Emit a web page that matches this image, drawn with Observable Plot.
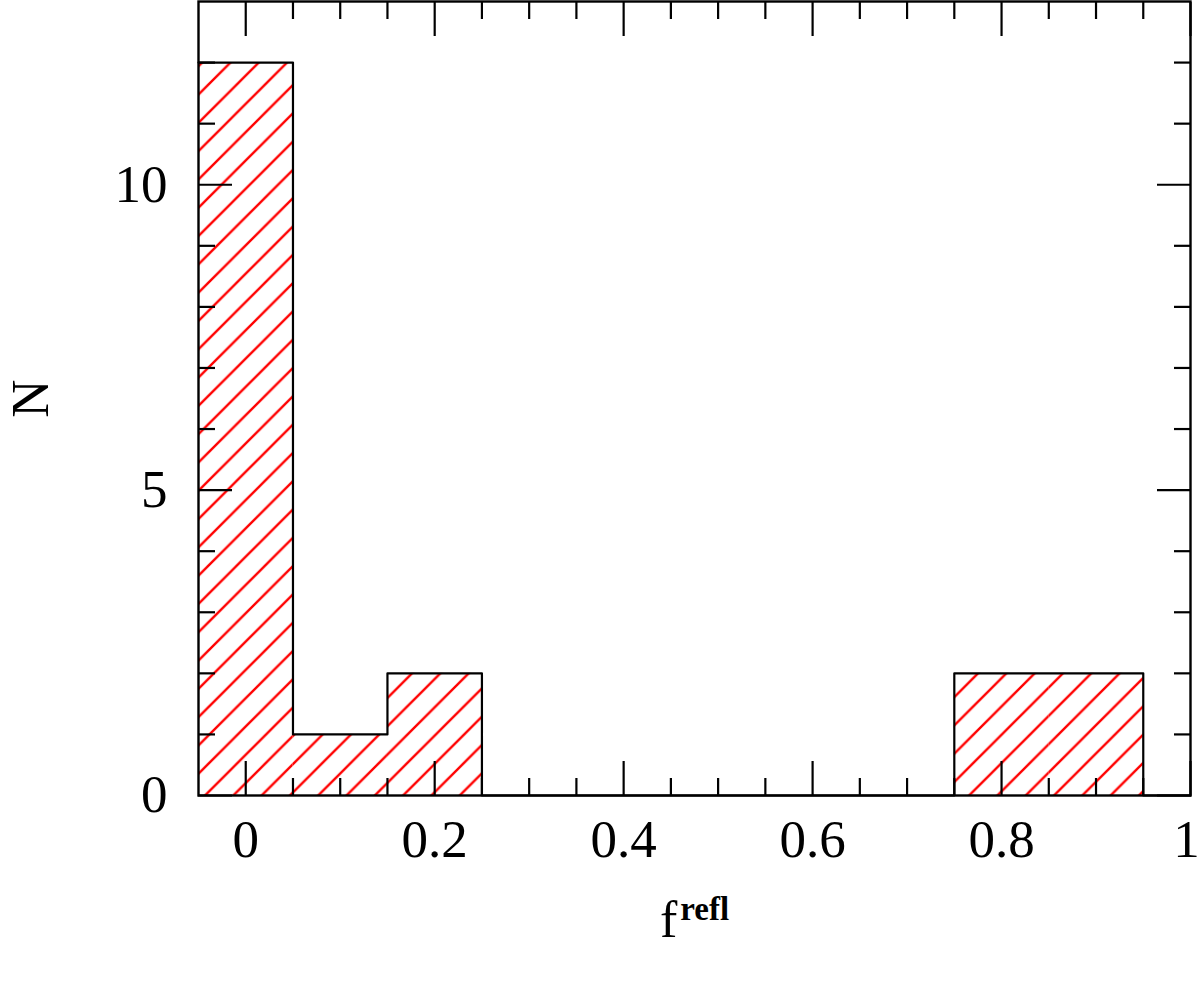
<!DOCTYPE html>
<html><head><meta charset="utf-8">
<script src="https://cdn.jsdelivr.net/npm/d3@7"></script>
<script src="https://cdn.jsdelivr.net/npm/@observablehq/plot@0.6"></script>
<style>body{margin:0;background:#fff} svg{display:block}</style>
</head><body><div id="chart"></div>
<script>
const binLo = [-0.05, 0.05, 0.15, 0.25, 0.35, 0.45, 0.55, 0.65, 0.75, 0.85];
const binHi = [0.05, 0.15, 0.25, 0.35, 0.45, 0.55, 0.65, 0.75, 0.85, 0.95];
const counts = [12, 1, 2, 0, 0, 0, 0, 0, 2, 2];
const xMajor = [0, 0.2, 0.4, 0.6, 0.8, 1];
const xMajorLabels = ["0", "0.2", "0.4", "0.6", "0.8", "1"];
const xMinor = [0.05, 0.1, 0.15, 0.25, 0.3, 0.35, 0.45, 0.5, 0.55, 0.65, 0.7, 0.75, 0.85, 0.9, 0.95];
const yMajor = [0, 5, 10];
const yMajorLabels = ["0", "5", "10"];
const yMinor = [1, 2, 3, 4, 6, 7, 8, 9, 11, 12];
const xTitle = "f";
const xTitleSup = "refl";
const yTitle = "N";

const bars = counts.map((c, i) => ({x1: binLo[i], x2: binHi[i], y: c})).filter(d => d.y > 0);
// step outline: left edges with counts, then closing at the last right edge and the axis end
const outline = counts.map((c, i) => ({x: binLo[i], y: c}))
  .concat([{x: binHi[binHi.length - 1], y: 0}, {x: 1.0, y: 0}]);
const FONT = "Liberation Serif";
const FS = 53;
const nX = xMajor.length;

const tickAxis = (fn, ticks, anchor, size) => fn(ticks, {anchor, tickSize: -size, tickFormat: () => "", strokeWidth: 2.2, label: null});

const plot = Plot.plot({
  width: 1200, height: 993,
  marginLeft: 198, marginRight: 10, marginTop: 1, marginBottom: 198,
  style: {fontFamily: FONT, fontSize: FS + "px", background: "#fff", color: "black"},
  x: {domain: [-0.05, 1.0]},
  y: {domain: [0, 13]},
  marks: [
    Plot.rectY(bars, {x1: "x1", x2: "x2", y: "y", fill: "none", className: "hatchbars"}),
    Plot.lineY(outline, {x: "x", y: "y", curve: "step-after", stroke: "black", strokeWidth: 2.2}),
    Plot.frame({stroke: "black", strokeWidth: 2.4}),
    tickAxis(Plot.axisX, xMajor, "bottom", 34),
    tickAxis(Plot.axisX, xMajor, "top", 34),
    tickAxis(Plot.axisX, xMinor, "bottom", 17),
    tickAxis(Plot.axisX, xMinor, "top", 17),
    tickAxis(Plot.axisY, yMajor, "left", 34),
    tickAxis(Plot.axisY, yMajor, "right", 34),
    tickAxis(Plot.axisY, yMinor, "left", 17),
    tickAxis(Plot.axisY, yMinor, "right", 17),
    Plot.axisX(xMajor.slice(0, nX - 1), {anchor: "bottom", tickSize: 0, tickPadding: 24, tickFormat: (d, i) => xMajorLabels[i], fontSize: FS, label: null}),
    Plot.axisX(xMajor.slice(nX - 1), {anchor: "bottom", tickSize: 0, tickPadding: 24, tickFormat: () => xMajorLabels[nX - 1], fontSize: FS, label: null, dx: -4}),
    Plot.axisY(yMajor, {anchor: "left", tickSize: 0, tickPadding: 31, tickFormat: (d, i) => yMajorLabels[i], fontSize: FS, label: yTitle, labelAnchor: "center", labelOffset: 188, labelArrow: "none"}),
    Plot.text([xTitle], {text: d => d, frameAnchor: "bottom", dy: 141, fontSize: 52, className: "xtitle"})
  ]
});

const svg = d3.select(plot);
const defs = svg.insert("defs", ":first-child");
const pat = defs.append("pattern").attr("id", "hatch").attr("patternUnits", "userSpaceOnUse")
  .attr("width", 28.3).attr("height", 28.3).attr("x", 10).attr("y", 0);
pat.append("path").attr("d", "M-7,7 L7,-7 M0,28.3 L28.3,0 M21.3,35.3 L35.3,21.3")
  .attr("stroke", "#ff0000").attr("stroke-width", 2.4).attr("fill", "none");
svg.selectAll(".hatchbars rect").attr("fill", "url(#hatch)");
svg.select(".hatchbars").attr("fill", "url(#hatch)");

svg.selectAll(".xtitle text").each(function () {
  const t = d3.select(this);
  t.text("");
  t.append("tspan").text(xTitle);
  t.append("tspan").attr("font-size", 33).attr("font-weight", "600").attr("dx", 3).attr("dy", "-0.5em").text(xTitleSup);
});

document.getElementById("chart").appendChild(plot);
</script>
</body></html>
